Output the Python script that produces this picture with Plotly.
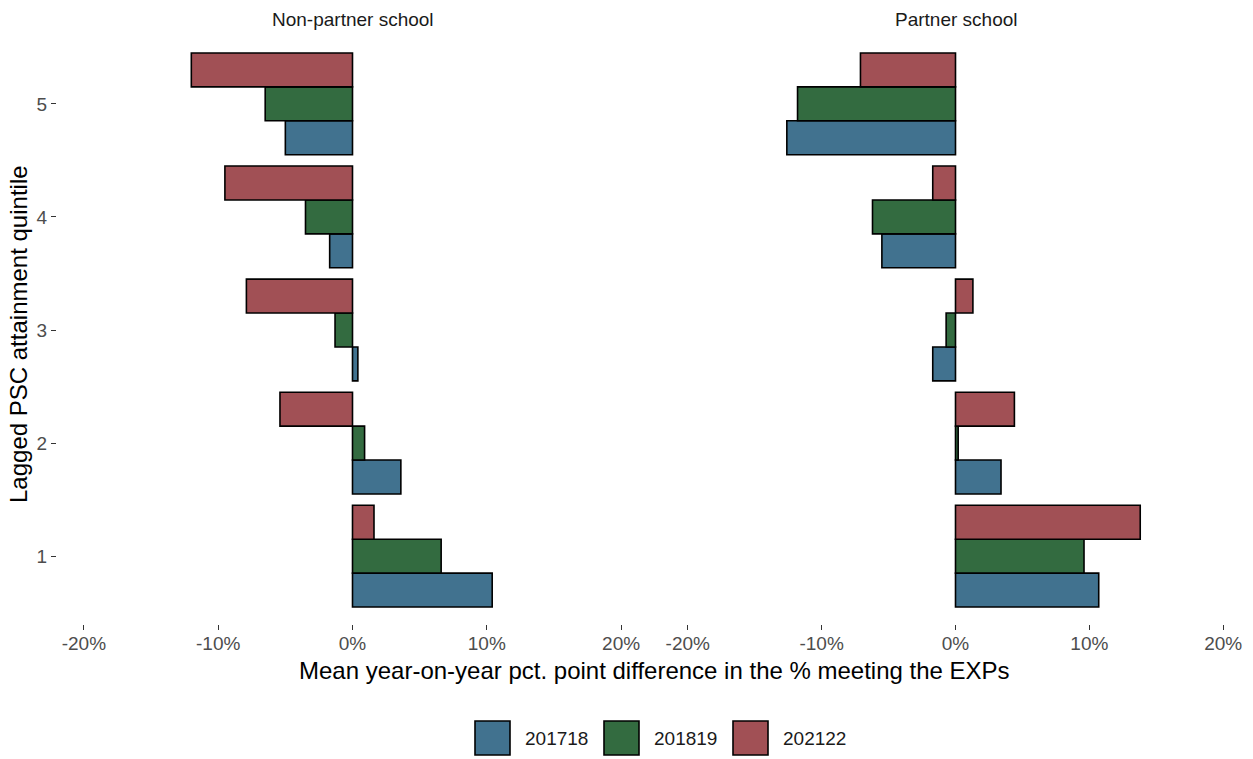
import plotly.graph_objects as go

W, H = 1253, 759

quintiles = [1, 2, 3, 4, 5]
years = ["201718", "201819", "202122"]
colors = ["#41728F", "#336B40", "#A15055"]

# Mean year-on-year pct. point difference (as fraction), by quintile 1..5
non_partner = {
    "201718": [0.104, 0.036, 0.004, -0.017, -0.050],
    "201819": [0.066, 0.009, -0.013, -0.035, -0.065],
    "202122": [0.016, -0.054, -0.079, -0.095, -0.120],
}
partner = {
    "201718": [0.107, 0.034, -0.017, -0.055, -0.126],
    "201819": [0.096, 0.002, -0.007, -0.062, -0.118],
    "202122": [0.138, 0.044, 0.013, -0.017, -0.071],
}

x_ticks = [-0.2, -0.1, 0.0, 0.1, 0.2]
x_tick_text = ["-20%", "-10%", "0%", "10%", "20%"]

FONT = "Liberation Sans, Arial, sans-serif"

def px_x(p):
    return p / W

def px_y(p):
    return 1 - p / H

fig = go.Figure()
for i, yr in enumerate(years):
    fig.add_trace(go.Bar(
        y=quintiles, x=non_partner[yr], orientation="h", name=yr,
        marker=dict(color=colors[i], line=dict(color="black", width=1.6)),
        xaxis="x", yaxis="y", showlegend=False,
    ))
    fig.add_trace(go.Bar(
        y=quintiles, x=partner[yr], orientation="h", name=yr,
        marker=dict(color=colors[i], line=dict(color="black", width=1.6)),
        xaxis="x2", yaxis="y2", showlegend=False,
    ))

tick_font = dict(family=FONT, size=19, color="#4D4D4D")
xcommon = dict(
    range=[-0.22, 0.22], tickvals=x_ticks, ticktext=x_tick_text,
    ticks="outside", ticklen=5, tickwidth=1.2, tickcolor="#333333",
    showgrid=False, zeroline=False, showline=False, tickfont=tick_font,
    automargin=False, ticklabelstandoff=-3,
)
y_dom = [px_y(624), px_y(36)]
ycommon = dict(range=[0.4, 5.6], showgrid=False, zeroline=False, showline=False,
               domain=y_dom, automargin=False)

fig.update_layout(
    width=W, height=H,
    margin=dict(l=0, r=0, t=0, b=0),
    plot_bgcolor="white", paper_bgcolor="white",
    barmode="group", bargap=0.1, bargroupgap=0,
    font=dict(family=FONT, color="black"),
    xaxis=dict(domain=[px_x(57), px_x(648)], anchor="y", **xcommon),
    xaxis2=dict(domain=[px_x(661), px_x(1250)], anchor="y2", **xcommon),
    yaxis=dict(anchor="x", tickvals=quintiles, ticktext=[str(q) for q in quintiles],
               ticks="outside", ticklen=5, tickwidth=1.2, tickcolor="#333333",
               tickfont=tick_font, **ycommon),
    yaxis2=dict(anchor="x2", matches="y", showticklabels=False, ticks="", **ycommon),
    showlegend=False,
)

ann = [
    dict(text="Non-partner school", x=px_x(353), y=px_y(20), font=dict(size=19, color="#1A1A1A")),
    dict(text="Partner school", x=px_x(956), y=px_y(20), font=dict(size=19, color="#1A1A1A")),
    dict(text="Mean year-on-year pct. point difference in the % meeting the EXPs",
         x=px_x(654), y=px_y(670), font=dict(size=24)),
    dict(text="Lagged PSC attainment quintile", x=px_x(18), y=px_y(334),
         textangle=-90, font=dict(size=24)),
]
for a in ann:
    fig.add_annotation(xref="paper", yref="paper", showarrow=False,
                       xanchor="center", yanchor="middle", **a)

# Legend keys drawn along the bottom
key_left = [475, 604, 733]
for i, yr in enumerate(years):
    x0 = key_left[i]
    fig.add_shape(type="rect", xref="paper", yref="paper",
                  x0=px_x(x0), x1=px_x(x0 + 35), y0=px_y(755), y1=px_y(721),
                  fillcolor=colors[i], line=dict(color="black", width=1.6))
    fig.add_annotation(xref="paper", yref="paper", showarrow=False,
                       x=px_x(x0 + 48), y=px_y(738), xanchor="left", yanchor="middle",
                       text=yr, font=dict(size=19, color="#1A1A1A"))

fig.write_html("out.html")
